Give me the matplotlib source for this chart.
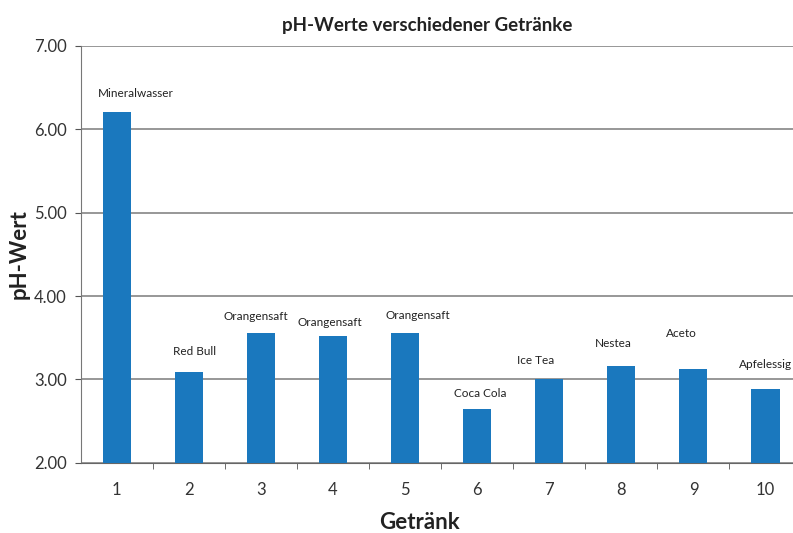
import matplotlib.pyplot as plt
from matplotlib.ticker import FixedLocator

plt.rcParams['font.family'] = ['Lato', 'DejaVu Sans']

getraenk = [1, 2, 3, 4, 5, 6, 7, 8, 9, 10]
ph_werte = [6.21, 3.09, 3.56, 3.52, 3.56, 2.65, 3.01, 3.16, 3.12, 2.89]
namen = ["Mineralwasser", "Red Bull", "Orangensaft", "Orangensaft", "Orangensaft",
         "Coca Cola", "Ice Tea", "Nestea", "Aceto", "Apfelessig"]
# label offsets from the bar tops (points), labels were moved by hand in the original
label_dy = [13, 15, 11.5, 9.5, 12.5, 11, 13, 16, 26, 17]
label_dx = [14, 4, -4, -2, 9.5, 2, -10, -6, -9, 0]

fig = plt.figure(figsize=(7.93, 5.33), dpi=100)
ax = fig.add_axes([0.1018, 0.1319, 0.909, 0.7818])

ax.bar(getraenk, [v - 2 for v in ph_werte], bottom=2, width=0.39,
       color='#1a78be', zorder=3)

for x, v, n, dx, dy in zip(getraenk, ph_werte, namen, label_dx, label_dy):
    ax.annotate(n, (x, v), xytext=(dx, dy), textcoords='offset points',
                ha='center', va='center', fontsize=8.5, color='#222222')

ax.set_ylim(2, 7)
ax.set_xlim(0.5, 10.5)
ax.set_yticks([2, 3, 4, 5, 6, 7])
ax.set_yticklabels([f"{t:.2f}" for t in [2, 3, 4, 5, 6, 7]])
ax.set_xticks(getraenk)
ax.xaxis.set_minor_locator(FixedLocator([x + 0.5 for x in getraenk]))
ax.tick_params(axis='x', which='major', length=0, pad=14, labelsize=12, labelcolor='#333333')
ax.tick_params(axis='x', which='minor', length=4, color='#555555')
ax.tick_params(axis='y', length=4, color='#555555', labelsize=12, labelcolor='#333333', pad=6)

ax.grid(axis='y', color='#7a7a7a', linewidth=1.1, zorder=0)
for s in ['top', 'right']:
    ax.spines[s].set_visible(False)
ax.spines['left'].set_color('#777777')
ax.spines['bottom'].set_color('#666666')

ax.set_title("pH-Werte verschiedener Getränke", fontsize=13.5, fontweight='bold',
             color='#222222', pad=11, x=0.48)
ax.set_ylabel("pH-Wert", fontsize=16, fontweight='bold', color='#222222', labelpad=3)
ax.set_xlabel("Getränk", fontsize=16, fontweight='bold', color='#222222', labelpad=10, x=0.47)

fig.savefig("out.png", dpi=100)
